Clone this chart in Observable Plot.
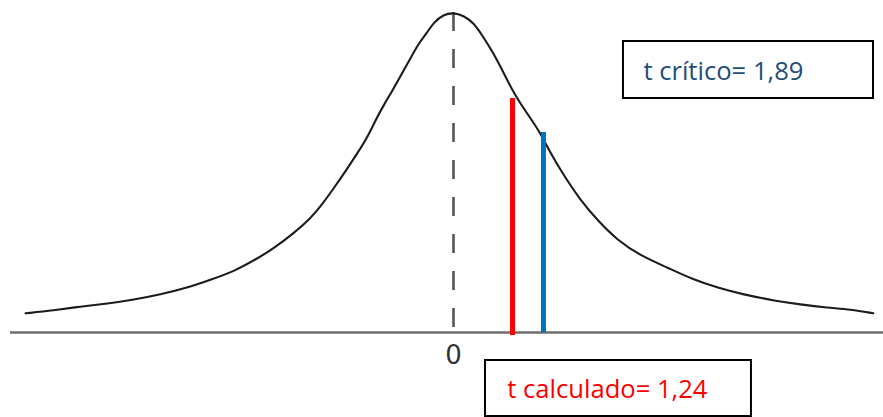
<!DOCTYPE html>
<html>
<head>
<meta charset="utf-8">
<script src="https://cdn.jsdelivr.net/npm/d3@7"></script>
<script src="https://cdn.jsdelivr.net/npm/@observablehq/plot@0.6"></script>
<style>
  html, body { margin: 0; padding: 0; background: #ffffff; }
  #chart { width: 883px; height: 417px; overflow: hidden; }
</style>
</head>
<body>
<div id="chart"></div>
<script>
// Curve: t value and density-like height
const curveT = [-8.99,-8.40,-7.84,-7.27,-6.72,-6.16,-5.59,-5.11,-4.62,-4.12,-3.78,-3.36,-3.00,-2.73,-2.52,-2.23,-2.02,-1.81,-1.64,-1.47,-1.28,-1.11,-0.95,-0.74,-0.55,-0.42,-0.21,0,0.21,0.42,0.63,0.84,1.05,1.24,1.41,1.62,1.83,2.04,2.29,2.67,3.03,3.45,3.93,4.50,5.04,5.55,6.09,6.72,7.29,7.86,8.34,8.82];
const curveD = [0.024,0.0275,0.0325,0.036,0.041,0.0475,0.056,0.066,0.076,0.0925,0.105,0.124,0.1425,0.1625,0.18,0.205,0.224,0.244,0.265,0.284,0.3025,0.321,0.3375,0.361,0.375,0.3875,0.3975,0.40,0.396,0.3875,0.369,0.349,0.325,0.3025,0.286,0.2675,0.249,0.224,0.199,0.165,0.14,0.115,0.096,0.081,0.066,0.056,0.0475,0.04,0.035,0.031,0.029,0.024];

// Critical and calculated t values, and the heights where their lines end
const tCalculado = 1.24;
const tCritico = 1.89;
const lineTops = [0.2925, 0.25];
const boxLabels = ["t crítico= 1,89", "t calculado= 1,24"];
const tickValues = [0];
const tickLabels = ["0"];

const curve = curveT.map((t, i) => ({t, d: curveD[i]}));
const peak = d3.max(curveD);

const plot = Plot.plot({
  width: 883,
  height: 417,
  margin: 0,
  x: {domain: [-9.517, 9.034], range: [0, 883], axis: null},
  y: {domain: [-0.10625, 0.415], range: [417, 0], axis: null},
  style: {background: "#ffffff", overflow: "hidden"},
  marks: [
    // baseline axis
    Plot.ruleY([0], {x1: -9.307, x2: 9.034, stroke: "#6e6e6e", strokeWidth: 2.3}),
    // dashed center line
    Plot.ruleX([0], {y1: peak, y2: 0, stroke: "#555555", strokeWidth: 2.6, strokeDasharray: "19,18"}),
    // density curve
    Plot.line(curve, {x: "t", y: "d", curve: "basis", stroke: "#1c1c1c", strokeWidth: 2.1}),
    // t calculado (red) and t crítico (blue)
    Plot.ruleX([tCalculado], {y1: -0.00375, y2: lineTops[0], stroke: "#ff0000", strokeWidth: 5}),
    Plot.ruleX([tCritico], {y1: 0, y2: lineTops[1], stroke: "#0070c0", strokeWidth: 5}),
    // tick label
    Plot.text(tickValues, {x: d => d, y: 0, text: (d, i) => tickLabels[i], dy: 23, lineAnchor: "middle",
      fontFamily: "DejaVu Sans", fontSize: 26, fill: "#333333"}),
    // boxes
    Plot.rect([boxLabels[0]], {x1: 3.571, x2: 8.824, y1: 0.2925, y2: 0.36375, fill: "#ffffff", stroke: "#000000", strokeWidth: 2}),
    Plot.rect([boxLabels[1]], {x1: 0.672, x2: 6.26, y1: -0.105, y2: -0.035, fill: "#ffffff", stroke: "#000000", strokeWidth: 2}),
    Plot.text([boxLabels[0]], {x: 3.99, y: 0.326, text: d => d, textAnchor: "start", lineAnchor: "middle",
      fontFamily: "Open Sans", fontSize: 25.6, fill: "#1f4e79"}),
    Plot.text([boxLabels[1]], {x: 1.13, y: -0.071, text: d => d, textAnchor: "start", lineAnchor: "middle",
      fontFamily: "Open Sans", fontSize: 25.6, fill: "#ff0000"})
  ]
});
document.getElementById("chart").appendChild(plot);
</script>
</body>
</html>
